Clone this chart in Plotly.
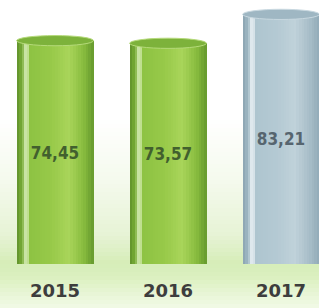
import plotly.graph_objects as go

# ---- data ----
years = ["2015", "2016", "2017"]
values = [74.45, 73.57, 83.21]
value_labels = ["74,45", "73,57", "83,21"]
palettes = ["green", "green", "grey"]

# ---- styling ----
positions = list(range(len(years)))
BAR_W = 0.68
N_STRIPS = 30

stops = {
    "green": [(0.00, "#5f902c"), (0.07, "#78ad36"), (0.13, "#dff2c2"), (0.18, "#8ec343"),
              (0.45, "#97c949"), (0.68, "#a9d55a"), (0.88, "#86ba3d"), (1.00, "#669a2e")],
    "grey": [(0.00, "#8aa3b0"), (0.07, "#a0b9c5"), (0.13, "#f0f6f8"), (0.18, "#aec5cf"),
             (0.45, "#b4c9d3"), (0.68, "#c0d2da"), (0.88, "#a6bcc7"), (1.00, "#91abb8")],
    "bg": [(0.00, "#ffffff"), (0.38, "#ffffff"), (0.58, "#f5faee"), (0.76, "#e7f3d6"),
           (0.855, "#d6edb8"), (0.90, "#dbf0c0"), (0.96, "#e9f6d8"), (1.00, "#f1f9e6")],
}
cap_colors = {"green": "#7db23b", "grey": "#9fb7c3"}
cap_lines = {"green": "#b5da7a", "grey": "#c8d8e0"}
label_colors = {"green": "#42602e", "grey": "#56656f"}


def hex2rgb(h):
    h = h.lstrip("#")
    return tuple(int(h[i:i + 2], 16) for i in (0, 2, 4))


def interp(name, t):
    s = stops[name]
    for (t0, c0), (t1, c1) in zip(s[:-1], s[1:]):
        if t0 <= t <= t1:
            f = (t - t0) / (t1 - t0) if t1 > t0 else 0
            a, b = hex2rgb(c0), hex2rgb(c1)
            return "rgb(%d,%d,%d)" % tuple(round(a[i] + (b[i] - a[i]) * f) for i in range(3))
    return s[-1][1]


fig = go.Figure()
dw = BAR_W / N_STRIPS
for k in range(N_STRIPS):
    t = (k + 0.5) / N_STRIPS
    fig.add_trace(go.Bar(
        x=positions, y=values,
        width=dw * 1.05, offset=-BAR_W / 2 + k * dw,
        marker=dict(color=[interp(p, t) for p in palettes], line=dict(width=0)),
        hoverinfo="skip", showlegend=False,
    ))

# overlay carrying the value labels
fig.add_trace(go.Bar(
    x=positions, y=values, width=BAR_W,
    marker=dict(color="rgba(0,0,0,0)", line=dict(width=0)),
    text=value_labels, textposition="inside", insidetextanchor="middle",
    textfont=dict(family="DejaVu Sans Condensed, DejaVu Sans", size=17, weight="bold",
                  color=[label_colors[p] for p in palettes]),
    showlegend=False,
))

shapes = []
# background glow (thin bands in paper coords)
H = 264.0
TOTAL = 308
NB = 77
for i in range(NB):
    py0 = i * TOTAL / NB
    py1 = (i + 1) * TOTAL / NB
    shapes.append(dict(type="rect", xref="paper", yref="paper", x0=0, x1=1,
                       y0=(H - py1) / H, y1=(H - py0) / H,
                       fillcolor=interp("bg", (py0 + py1) / 2 / TOTAL),
                       line=dict(width=0), layer="below"))
# cylinder caps
for x, v, p in zip(positions, values, palettes):
    shapes.append(dict(type="circle", xref="x", yref="y",
                       x0=x - BAR_W / 2, x1=x + BAR_W / 2, y0=v - 1.7, y1=v + 1.7,
                       fillcolor=cap_colors[p], line=dict(color=cap_lines[p], width=1),
                       layer="above"))

fig.update_layout(
    width=319, height=308,
    margin=dict(l=0, r=0, t=0, b=44),
    paper_bgcolor="white", plot_bgcolor="rgba(0,0,0,0)",
    barmode="overlay", bargap=0,
    shapes=shapes, showlegend=False,
    xaxis=dict(range=[-0.487, 2.336], tickvals=positions, ticktext=years,
               showgrid=False, zeroline=False, showline=False, ticks="",
               ticklabelstandoff=14,
               tickfont=dict(family="DejaVu Sans", size=18, color="#3d3d3d"),
               fixedrange=True),
    yaxis=dict(range=[0, 88], visible=False, fixedrange=True),
)
fig.update_xaxes(tickfont_weight="bold")

fig.write_html("out.html", config={"displayModeBar": False})

with open("out.html", encoding="utf-8") as fh:
    html = fh.read()
html = html.replace("<head>", "<head><style>html,body{margin:0;padding:0;overflow:hidden}</style>", 1)
with open("out.html", "w", encoding="utf-8") as fh:
    fh.write(html)
